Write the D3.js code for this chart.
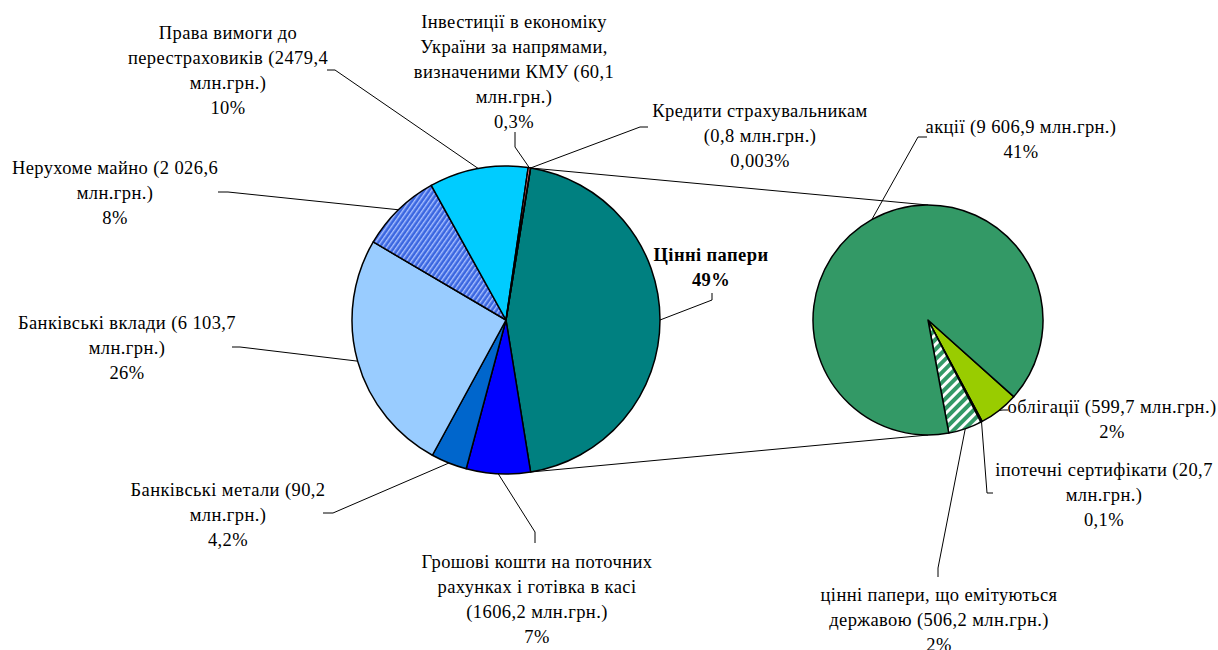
<!DOCTYPE html>
<html>
<head>
<meta charset="utf-8">
<script src="https://cdn.jsdelivr.net/npm/d3@7"></script>
<style>
  body { margin: 0; background: #fff; }
</style>
</head>
<body>
<div id="chart"></div>
<script>
// structure of the insurers' assets (main pie), clockwise from the "other" slice
var mainNames = ["Цінні папери", "Грошові кошти", "Банківські метали", "Банківські вклади",
                 "Нерухоме майно", "Права вимоги до перестраховиків", "Інвестиції в економіку", "Кредити страхувальникам"];
var mainValues = [null, 1606.2, 902, 6103.7, 2026.6, 2479.4, 60.1, 0.8]; // first = sum of the second pie
var mainColors = ["#008080", "#0000ff", "#0066cc", "#99ccff", "url(#hatchBlue)", "#00ccff", "#ff7c80", "#993366"];

// securities break-down (second pie), clockwise
var secNames = ["облігації", "іпотечні сертифікати", "цінні папери, що емітуються державою", "акції"];
var secValues = [599.7, 20.7, 506.2, 9606.9];
var secColors = ["#99cc00", "#006633", "url(#hatchGreen)", "#339966"];

var mainLabels = [
  ["Цінні папери", "49%"],
  ["Грошові кошти на поточних", "рахунках і готівка в касі", "(1606,2 млн.грн.)", "7%"],
  ["Банківські метали (90,2", "млн.грн.)", "4,2%"],
  ["Банківські вклади (6 103,7", "млн.грн.)", "26%"],
  ["Нерухоме майно (2 026,6", "млн.грн.)", "8%"],
  ["Права вимоги до", "перестраховиків (2479,4", "млн.грн.)", "10%"],
  ["Інвестиції в економіку", "України за напрямами,", "визначеними КМУ (60,1", "млн.грн.)", "0,3%"],
  ["Кредити страхувальникам", "(0,8 млн.грн.)", "0,003%"]
];
var secLabels = [
  ["облігації (599,7 млн.грн.)", "2%"],
  ["іпотечні сертифікати (20,7", "млн.грн.)", "0,1%"],
  ["цінні папери, що емітуються", "державою (506,2 млн.грн.)", "2%"],
  ["акції (9 606,9 млн.грн.)", "41%"]
];

mainValues[0] = d3.sum(secValues);

var W = 1218, H = 650;
var c1 = { x: 506, y: 320, r: 154 };
var c2 = { x: 928, y: 320, r: 115 };
var lineH = 25;
var FONT = "'Liberation Serif'";

// label placement: text centre x, first baseline y, elbow of the leader line
var mainPos = [
  { x: 711, y: 261, elbow: [[712, 293], [712, 300]], bold: true },
  { x: 537, y: 568, elbow: [[535, 543], [535, 532]] },
  { x: 228, y: 496, elbow: [[323, 513], [333, 513]] },
  { x: 127, y: 329, elbow: [[232, 347], [240, 347]] },
  { x: 115, y: 174, elbow: [[218, 192], [228, 192]] },
  { x: 228, y: 39,  elbow: [[327, 70], [335, 70]] },
  { x: 514, y: 28,  elbow: [[515, 132], [515, 147]] },
  { x: 760, y: 117, elbow: [[648, 127], [640, 127]] }
];
var secPos = [
  { x: 1112, y: 413, elbow: [[1008, 410], [1003, 410]] },
  { x: 1104, y: 476, elbow: [[993, 493], [987, 493]] },
  { x: 939,  y: 601, elbow: [[938, 577], [938, 568]] },
  { x: 1021, y: 133, elbow: [[927, 137], [918, 137]] }
];

var svg = d3.select("#chart").append("svg")
    .attr("width", W).attr("height", H);

var defs = svg.append("defs");
var pb = defs.append("pattern").attr("id", "hatchBlue")
    .attr("patternUnits", "userSpaceOnUse").attr("width", 4).attr("height", 4)
    .attr("patternTransform", "rotate(-55)");
pb.append("rect").attr("width", 4).attr("height", 4).attr("fill", "#3a66e0");
pb.append("rect").attr("width", 4).attr("height", 1.4).attr("fill", "#a9c0ff");

var pg = defs.append("pattern").attr("id", "hatchGreen")
    .attr("patternUnits", "userSpaceOnUse").attr("width", 7).attr("height", 7)
    .attr("patternTransform", "rotate(-45)");
pg.append("rect").attr("width", 7).attr("height", 7).attr("fill", "#339966");
pg.append("rect").attr("width", 7).attr("height", 3).attr("fill", "#ffffff");

// main pie: the securities slice is centred at 3 o'clock
var share0 = mainValues[0] / d3.sum(mainValues);
var start1 = Math.PI / 2 - share0 * Math.PI;
var pie1 = d3.pie().sort(null).value(function(d) { return d; })
    .startAngle(start1).endAngle(start1 + 2 * Math.PI);
var arcs1 = pie1(mainValues);

var start2 = 131.8 * Math.PI / 180;
var pie2 = d3.pie().sort(null).value(function(d) { return d; })
    .startAngle(start2).endAngle(start2 + 2 * Math.PI);
var arcs2 = pie2(secValues);

function edge(c, a) { return [c.x + c.r * Math.sin(a), c.y - c.r * Math.cos(a)]; }

// connector lines between the pies
var top1 = edge(c1, arcs1[0].startAngle), bot1 = edge(c1, arcs1[0].endAngle);
svg.append("line").attr("x1", top1[0]).attr("y1", top1[1]).attr("x2", c2.x).attr("y2", c2.y - c2.r)
    .attr("stroke", "#000").attr("stroke-width", 1);
svg.append("line").attr("x1", bot1[0]).attr("y1", bot1[1]).attr("x2", c2.x).attr("y2", c2.y + c2.r)
    .attr("stroke", "#000").attr("stroke-width", 1);

function drawPie(c, arcs, colors) {
  var arc = d3.arc().innerRadius(0).outerRadius(c.r);
  svg.append("g").attr("transform", "translate(" + c.x + "," + c.y + ")")
    .selectAll("path").data(arcs).enter().append("path")
    .attr("d", arc)
    .attr("fill", function(d, i) { return colors[i]; })
    .attr("stroke", "#000").attr("stroke-width", 1.5).attr("stroke-linejoin", "round");
}
drawPie(c1, arcs1, mainColors);
drawPie(c2, arcs2, secColors);

function drawLabels(c, arcs, labels, pos) {
  var line = d3.line();
  arcs.forEach(function(d, i) {
    var p = pos[i];
    var mid = edge(c, (d.startAngle + d.endAngle) / 2);
    svg.append("path").attr("d", line(p.elbow.concat([mid])))
      .attr("fill", "none").attr("stroke", "#000").attr("stroke-width", 1);
    var t = svg.append("text").attr("text-anchor", "middle")
      .style("font-family", FONT).style("font-size", "18.5px").style("fill", "#000")
      .style("letter-spacing", "0.4px")
      .style("font-weight", p.bold ? "bold" : "normal");
    labels[i].forEach(function(s, k) {
      t.append("tspan").attr("x", p.x).attr("y", p.y + k * lineH).text(s);
    });
  });
}
drawLabels(c1, arcs1, mainLabels, mainPos);
drawLabels(c2, arcs2, secLabels, secPos);
</script>
</body>
</html>
